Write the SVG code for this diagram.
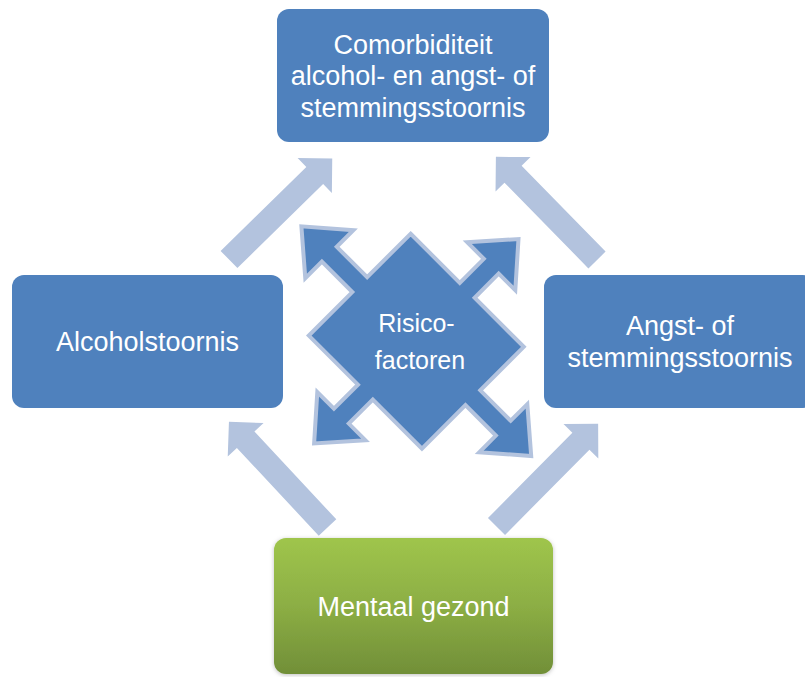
<svg xmlns="http://www.w3.org/2000/svg" width="805" height="677" viewBox="0 0 805 677">
  <defs>
    <linearGradient id="green" x1="0" y1="0" x2="0" y2="1">
      <stop offset="0" stop-color="#9fc54c"/>
      <stop offset="0.5" stop-color="#8cae44"/>
      <stop offset="1" stop-color="#718f38"/>
    </linearGradient>
    <filter id="shadow" x="-10%" y="-10%" width="120%" height="120%">
      <feDropShadow dx="0" dy="1" stdDeviation="2" flood-color="#000" flood-opacity="0.25"/>
    </filter>
    <path id="blockArrow" d="M0,-12 H120 V-24.5 L144.5,0 L120,24.5 V12 H0 Z"/>
  </defs>
  <style>
    .box { fill: #4f81bd; }
    .label { font-family: "Liberation Sans", Arial, sans-serif; font-size: 27px; fill: #ffffff; text-anchor: middle; }
    .clabel { font-family: "Liberation Sans", Arial, sans-serif; font-size: 25px; fill: #ffffff; text-anchor: middle; }
    .conn { fill: #b3c3de; }
    .quad { fill: #4f81bd; stroke: #b3c3de; stroke-width: 4; stroke-linejoin: miter; }
  </style>
  <rect width="805" height="677" fill="#ffffff"/>

  <g id="connectors">
    <use href="#blockArrow" class="conn" transform="translate(229,259.5) rotate(-44.4)"/>
    <use href="#blockArrow" class="conn" transform="translate(597,260) rotate(-134.4)"/>
    <use href="#blockArrow" class="conn" transform="translate(327.5,527.5) rotate(-133)"/>
    <use href="#blockArrow" class="conn" transform="translate(496.5,526.5) rotate(-45.3)"/>
  </g>

  <g id="node-comorbiditeit">
    <rect class="box" x="277" y="9" width="272" height="133" rx="12"/>
    <text class="label" x="413" y="53.5">Comorbiditeit</text>
    <text class="label" x="413" y="85">alcohol- en angst- of</text>
    <text class="label" x="413" y="116.5">stemmingsstoornis</text>
  </g>

  <g id="node-alcoholstoornis">
    <rect class="box" x="12" y="275" width="271" height="133" rx="12"/>
    <text class="label" x="147.5" y="350.5">Alcoholstoornis</text>
  </g>

  <g id="node-angst">
    <rect class="box" x="544" y="275" width="271" height="133" rx="12"/>
    <text class="label" x="680" y="335">Angst- of</text>
    <text class="label" x="680" y="367">stemmingsstoornis</text>
  </g>

  <g id="node-mentaal-gezond">
    <rect x="274" y="538" width="279" height="136" rx="12" fill="url(#green)" filter="url(#shadow)"/>
    <text class="label" x="413.5" y="616">Mentaal gezond</text>
  </g>

  <g id="node-risicofactoren">
    <path class="quad" transform="translate(416.3,341.2) rotate(45)" d="M-80,-72 L-10.5,-72 L-10.5,-106 L-34,-106 L0,-144.5 L34,-106 L10.5,-106 L10.5,-72 L80,-72 L80,-10.5 L123,-10.5 L123,-34 L162.5,0 L123,34 L123,10.5 L80,10.5 L80,72 L10.5,72 L10.5,106 L34,106 L0,144.5 L-34,106 L-10.5,106 L-10.5,72 L-80,72 L-80,10.5 L-123,10.5 L-123,34 L-162.5,0 L-123,-34 L-123,-10.5 L-80,-10.5 Z"/>
    <text class="clabel" x="416.5" y="332">Risico-</text>
    <text class="clabel" x="420" y="368.5">factoren</text>
  </g>
</svg>
